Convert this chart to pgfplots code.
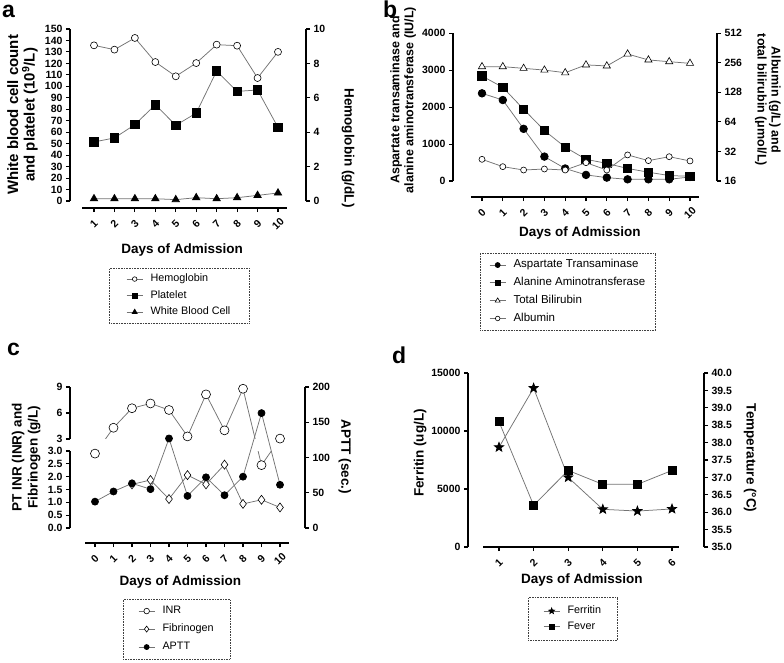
\documentclass[border=0pt]{standalone}
\usepackage{fontspec}
\setmainfont{Liberation Sans}
\usepackage{pgfplots}
\pgfplotsset{compat=1.18}

\pgfdeclareplotmark{fstar}{%
 \pgfpathmoveto{\pgfpointpolar{90}{\pgfplotmarksize}}%
 \pgfpathlineto{\pgfpointpolar{126}{0.42\pgfplotmarksize}}%
 \pgfpathlineto{\pgfpointpolar{162}{\pgfplotmarksize}}%
 \pgfpathlineto{\pgfpointpolar{198}{0.42\pgfplotmarksize}}%
 \pgfpathlineto{\pgfpointpolar{234}{\pgfplotmarksize}}%
 \pgfpathlineto{\pgfpointpolar{270}{0.42\pgfplotmarksize}}%
 \pgfpathlineto{\pgfpointpolar{306}{\pgfplotmarksize}}%
 \pgfpathlineto{\pgfpointpolar{342}{0.42\pgfplotmarksize}}%
 \pgfpathlineto{\pgfpointpolar{18}{\pgfplotmarksize}}%
 \pgfpathlineto{\pgfpointpolar{54}{0.42\pgfplotmarksize}}%
 \pgfpathclose\pgfusepathqfillstroke}

\tikzset{
 axl/.style={black, line width=1.5pt},
 lineG/.style={color=black!55, line width=0.75pt},
 mOpen/.style={mark options={solid, draw=black, fill=white, line width=0.6pt}},
 mFill/.style={mark options={solid, draw=black, fill=black}},
}
\pgfplotsset{
 prism/.style={
  scale only axis, clip=false,
  axis line style={draw=none},
  tick align=outside, major tick length=4pt,
  tick style={black, line width=1.1pt},
  minor tick num=0,
  tick label style={font=\bfseries\fontsize{10.5}{12}\selectfont},
  /pgf/number format/assume math mode=true,
  /pgf/number format/1000 sep={},
  scaled x ticks=false, scaled y ticks=false,
  xticklabel style={anchor=center, yshift=-12pt, rotate=45},
  label style={font=\bfseries\fontsize{13.5}{16}\selectfont},
  xlabel style={anchor=center},
  ylabel style={anchor=center, align=center},
  legend cell align=left,
  legend image code/.code={\draw[mark repeat=2,mark phase=2,solid,##1] plot coordinates {(0pt,0pt) (8pt,0pt) (16pt,0pt)};},
 },
 lgd/.style={legend style={draw=black!75, densely dotted, line width=0.6pt, anchor=north west,
   font=\fontsize{10.8}{13}\selectfont, fill=none, row sep=3pt,
   /tikz/every odd column/.append style={column sep=6pt},
   nodes={text height=8pt, text depth=2.5pt, inner sep=1.5pt}}},
}

\begin{document}
\begin{tikzpicture}[x=1pt,y=1pt]
\useasboundingbox (0pt,0pt) rectangle (784pt,-662pt);

% panel letters
\node[anchor=base west, font=\bfseries\fontsize{23}{23}\selectfont, inner sep=0pt] at (2pt,-17pt) {a};
\node[anchor=base west, font=\bfseries\fontsize{23}{23}\selectfont, inner sep=0pt] at (383pt,-17pt) {b};
\node[anchor=base west, font=\bfseries\fontsize{23}{23}\selectfont, inner sep=0pt] at (7pt,-355pt) {c};
\node[anchor=base west, font=\bfseries\fontsize{23}{23}\selectfont, inner sep=0pt] at (392pt,-363pt) {d};

%================ PANEL A =================
\begin{axis}[prism, lgd, at={(70pt,-208pt)}, anchor=south west, width=236pt, height=179pt,
 xmin=-0.174, xmax=11.37, ymin=-6.105, ymax=150,
 xtick={1,...,10}, ytick={0,10,...,150}, xtick pos=left, ytick pos=left,
 xlabel={Days of Admission}, xlabel style={at={(axis description cs:0.475,-0.2346)}},
 ylabel={White blood cell count\\and platelet (10\textsuperscript{9}/L)},
 ylabel style={at={(axis description cs:-0.201,0.52)}, font=\bfseries\fontsize{15}{16.5}\selectfont},
 legend style={at={(0.1653,-0.3352)}, inner xsep=17pt, inner ysep=4pt}]
\addlegendimage{lineG, mark=*, mark size=2.3pt, mOpen}\addlegendentry{Hemoglobin}
\addlegendimage{lineG, mark=square*, mark size=2.5pt, mFill}\addlegendentry{Platelet}
\addlegendimage{lineG, mark=triangle*, mark size=2.8pt, mFill}\addlegendentry{White Blood Cell}
\addplot[lineG, mark=square*, mark size=4.2pt, mFill, forget plot] coordinates {
(1,51.5) (2,55) (3,66.6) (4,84) (5,66) (6,76.7) (7,113.4) (8,95.6) (9,96.8) (10,64.2)};
\addplot[lineG, mark=triangle*, mark size=4.2pt, mFill, forget plot] coordinates {
(1,2) (2,2) (3,2) (4,2) (5,1.2) (6,2.9) (7,2) (8,2.9) (9,4.9) (10,7)};
\draw[axl] (axis cs:-0.174,0) -- (axis cs:-0.174,150);
\draw[axl] (axis cs:0.413,-6.105) -- (axis cs:10.44,-6.105);
\end{axis}
\begin{axis}[prism, at={(70pt,-208pt)}, anchor=south west, width=236pt, height=179pt,
 xmin=-0.174, xmax=11.37, ymin=-0.407, ymax=10,
 xtick=\empty, ytick={0,2,...,10}, ytick pos=right, yticklabel pos=right,
 ylabel={Hemoglobin (g/dL)},
 ylabel style={at={(axis description cs:1.178,0.335)}, rotate=180}]
\addplot[lineG, mark=*, mark size=3.5pt, mOpen] coordinates {
(1,9.05) (2,8.8) (3,9.48) (4,8.08) (5,7.25) (6,8.02) (7,9.09) (8,9.03) (9,7.15) (10,8.67)};
\draw[axl] (axis cs:11.37,0) -- (axis cs:11.37,10);
\end{axis}

%================ PANEL B =================
\begin{axis}[prism, lgd, at={(453pt,-197pt)}, anchor=south west, width=264pt, height=163.7pt,
 xmin=-1.394, xmax=11.298, ymin=-433.3, ymax=4000,
 xtick={0,...,10}, ytick={0,1000,...,4000}, xtick pos=left, ytick pos=left,
 xlabel={Days of Admission}, xlabel style={at={(axis description cs:0.481,-0.22)}},
 ylabel={Aspartate transaminase and\\alanine aminotransferase (IU/L)},
 ylabel style={at={(axis description cs:-0.189,0.593)}, font=\bfseries\fontsize{12.5}{14}\selectfont},
 legend style={at={(0.1023,-0.3421)}, inner xsep=9pt, inner ysep=5pt, row sep=4.3pt,
   font=\fontsize{11.5}{13}\selectfont}]
\addlegendimage{lineG, mark=*, mark size=2.5pt, mFill}\addlegendentry{Aspartate Transaminase}
\addlegendimage{lineG, mark=square*, mark size=2.5pt, mFill}\addlegendentry{Alanine Aminotransferase}
\addlegendimage{lineG, mark=triangle*, mark size=2.8pt, mOpen}\addlegendentry{Total Bilirubin}
\addlegendimage{lineG, mark=*, mark size=2.3pt, mOpen}\addlegendentry{Albumin}
\addplot[lineG, mark=square*, mark size=4.2pt, mFill, forget plot] coordinates {
(0,2844) (1,2537) (2,1945) (3,1367) (4,917) (5,587) (6,477) (7,339) (8,239) (9,147) (10,128)};
\addplot[lineG, mark=*, mark size=3.8pt, mFill, forget plot] coordinates {
(0,2375) (1,2193) (2,1413) (3,661) (4,339) (5,165) (6,92) (7,46) (8,46) (9,46) (10,110)};
\draw[axl] (axis cs:-1.394,0) -- (axis cs:-1.394,4000);
\draw[axl] (axis cs:-0.529,-433.3) -- (axis cs:10.433,-433.3);
\end{axis}
\begin{axis}[prism, at={(453pt,-197pt)}, anchor=south west, width=264pt, height=163.7pt,
 xmin=-1.394, xmax=11.298, ymode=log, log basis y=2, ymin=10.99, ymax=512,
 xtick=\empty, ytick={16,32,64,128,256,512}, yticklabels={16,32,64,128,256,512},
 yminorticks=false, ytick pos=right, yticklabel pos=right,
 ylabel={Albumin (g/L) and\\total bilirubin (μmol/L)},
 ylabel style={at={(axis description cs:1.193,0.593)}, rotate=180, font=\bfseries\fontsize{12.5}{14}\selectfont}]
\addplot[lineG, mark=*, mark size=3pt, mOpen] coordinates {
(0,26.6) (1,22.4) (2,20.7) (3,21.2) (4,20.7) (5,24.6) (6,20.7) (7,29.5) (8,25.8) (9,28.3) (10,25.6)};
\addplot[lineG, mark=triangle*, mark size=4.2pt, mOpen] coordinates {
(0,234) (1,234) (2,225) (3,216) (4,203) (5,244) (6,238) (7,315) (8,274) (9,263) (10,253)};
\draw[axl] (axis cs:11.298,16) -- (axis cs:11.298,512);
\end{axis}

%================ PANEL C =================
\begin{axis}[prism, lgd, at={(70pt,-543pt)}, anchor=south west, width=235pt, height=156pt,
 xmin=-1.351, xmax=11.351, ymin=-0.5844, ymax=5.4935,
 xtick={0,...,10}, xtick pos=left, ytick pos=left,
 ytick={0,0.5,1,1.5,2,2.5,3,3.4675,4.4805,5.4935},
 yticklabels={0.0,0.5,1.0,1.5,2.0,2.5,3.0,3,6,9},
 xlabel={Days of Admission}, xlabel style={at={(axis description cs:0.47,-0.25)}},
 ylabel={PT INR (INR) and\\Fibrinogen (g/L)},
 ylabel style={at={(axis description cs:-0.187,0.551)}},
 legend style={at={(0.2255,-0.359)}, inner xsep=15pt, inner ysep=5pt, row sep=4.5pt}]
\addlegendimage{lineG, mark=*, mark size=2.8pt, mOpen}\addlegendentry{INR}
\addlegendimage{lineG, mark=diamond*, mark size=3pt, mOpen}\addlegendentry{Fibrinogen}
\addlegendimage{lineG, mark=*, mark size=2.5pt, mFill}\addlegendentry{APTT}
% INR (broken axis: values above 3 go to the upper segment)
\addplot[lineG, no markers, forget plot, y filter/.expression={y>3 ? 3.4675+0.33766*(y-3) : y}] coordinates {
(0,2.9) (1,4.3) (2,6.55) (3,7.1) (4,6.35) (5,3.3) (6,8.15) (7,4.0) (8,8.8) (9,2.45) (10,3.05)};
\fill[white] (axis cs:-0.6,3.0) rectangle (axis cs:10.6,3.4675);
\addplot[only marks, mark=*, mark size=4.5pt, mOpen, forget plot, y filter/.expression={y>3 ? 3.4675+0.33766*(y-3) : y}] coordinates {
(0,2.9) (1,4.3) (2,6.55) (3,7.1) (4,6.35) (5,3.3) (6,8.15) (7,4.0) (8,8.8) (9,2.45) (10,3.05)};
\addplot[lineG, mark=diamond*, mark size=4.5pt, mOpen, forget plot] coordinates {
(2,1.7) (3,1.87) (4,1.13) (5,2.06) (6,1.70) (7,2.47) (8,0.94) (9,1.1) (10,0.8)};
\draw[axl] (axis cs:-1.351,0) -- (axis cs:-1.351,3);
\draw[axl] (axis cs:-1.351,3.4675) -- (axis cs:-1.351,5.4935);
\draw[axl] (axis cs:-0.54,-0.5844) -- (axis cs:10.486,-0.5844);
\end{axis}
\begin{axis}[prism, at={(70pt,-543pt)}, anchor=south west, width=235pt, height=156pt,
 xmin=-1.351, xmax=11.351, ymin=-21.28, ymax=200,
 xtick=\empty, ytick={0,50,...,200}, ytick pos=right, yticklabel pos=right,
 ylabel={APTT (sec.)},
 ylabel style={at={(axis description cs:1.17,0.551)}, rotate=180}]
\addplot[lineG, mark=*, mark size=3.5pt, mFill] coordinates {
(0,37.4) (1,51.8) (2,63.3) (3,55.1) (4,127) (5,45.5) (6,71.9) (7,46.5) (8,72.8) (9,163) (10,61.3)};
\draw[axl] (axis cs:11.351,0) -- (axis cs:11.351,200);
\end{axis}

%================ PANEL D =================
\begin{axis}[prism, lgd, at={(468pt,-547pt)}, anchor=south west, width=236pt, height=174pt,
 xmin=0.104, xmax=6.925, ymin=0, ymax=15000,
 xtick={1,...,6}, ytick={0,5000,10000,15000}, xtick pos=left, ytick pos=left,
 xlabel={Days of Admission}, xlabel style={at={(axis description cs:0.483,-0.19)}},
 ylabel={Ferritin (ug/L)},
 ylabel style={at={(axis description cs:-0.203,0.54)}},
 legend style={at={(0.2542,-0.2874)}, inner xsep=15pt, inner ysep=7pt, row sep=2pt}]
\addlegendimage{lineG, mark=fstar, mark size=3pt, mFill}\addlegendentry{Ferritin}
\addlegendimage{lineG, mark=square*, mark size=2.5pt, mFill}\addlegendentry{Fever}
\addplot[lineG, mark=fstar, mark size=4.8pt, mFill, forget plot] coordinates {
(1,8600) (2,13700) (3,6000) (4,3250) (5,3100) (6,3280)};
\draw[axl] (axis cs:0.104,0) -- (axis cs:0.104,15000);
\draw[axl] (axis cs:0.538,0) -- (axis cs:6.2,0);
\end{axis}
\begin{axis}[prism, at={(468pt,-547pt)}, anchor=south west, width=236pt, height=174pt,
 xmin=0.104, xmax=6.925, ymin=35, ymax=40,
 xtick=\empty, ytick={35,35.5,36,36.5,37,37.5,38,38.5,39,39.5,40},
 yticklabel style={/pgf/number format/.cd, fixed, fixed zerofill, precision=1},
 ytick pos=right, yticklabel pos=right,
 ylabel={Temperature (°C)},
 ylabel style={at={(axis description cs:1.195,0.511)}, rotate=180}]
\addplot[lineG, mark=square*, mark size=4pt, mFill] coordinates {
(1,38.6) (2,36.2) (3,37.2) (4,36.8) (5,36.8) (6,37.2)};
\draw[axl] (axis cs:6.925,35) -- (axis cs:6.925,40);
\end{axis}
\end{tikzpicture}
\end{document}
